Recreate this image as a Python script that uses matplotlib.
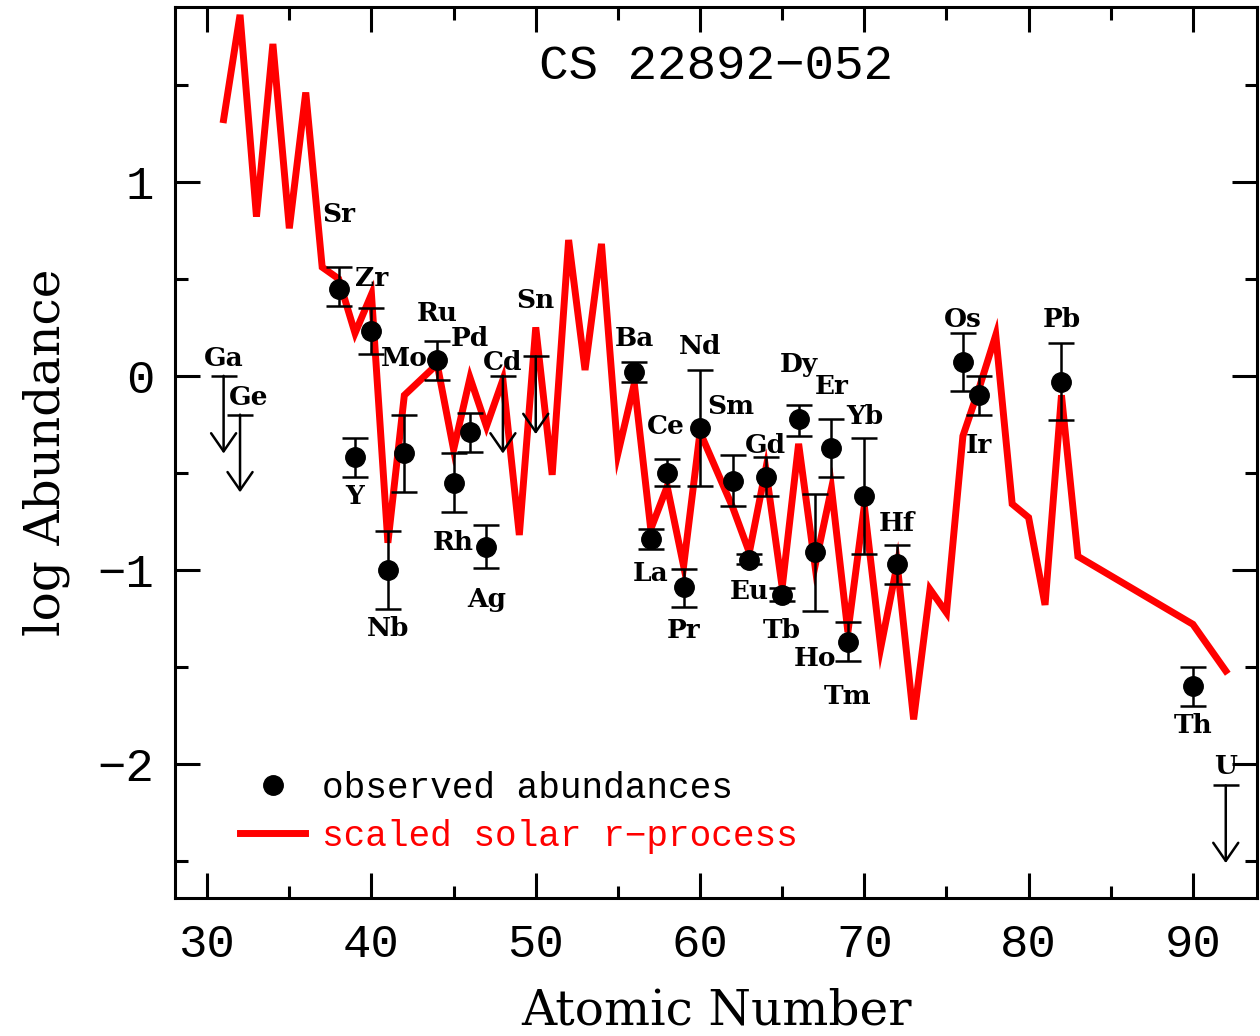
import matplotlib
matplotlib.use('Agg')
import matplotlib.pyplot as plt
from matplotlib.ticker import MultipleLocator
from matplotlib.lines import Line2D

# ---- scaled solar r-process curve ----
solar_Z = [31, 32, 33, 34, 35, 36, 37, 38, 39, 40, 41, 42, 44, 45, 46, 47, 48, 49,
           50, 51, 52, 53, 54, 55, 56, 57, 58, 59, 60, 62, 63, 64, 65, 66, 67, 68,
           69, 70, 71, 72, 73, 74, 75, 76, 77, 78, 79, 80, 81, 82, 83, 90, 92]
solar_logeps = [1.32, 1.86, 0.82, 1.71, 0.76, 1.46, 0.56, 0.50, 0.22, 0.42, -0.86, -0.10,
                0.06, -0.38, -0.01, -0.26, -0.02, -0.82, 0.25, -0.51, 0.70, 0.03, 0.68,
                -0.40, -0.04, -0.79, -0.57, -0.98, -0.29, -0.68, -0.91, -0.48, -1.09,
                -0.35, -0.98, -0.58, -1.32, -0.67, -1.40, -0.97, -1.77, -1.10, -1.22,
                -0.31, -0.06, 0.21, -0.66, -0.73, -1.18, -0.10, -0.93, -1.28, -1.52]

# ---- observed abundances ----
obs_Z = [38, 39, 40, 41, 42, 44, 45, 46, 47, 56, 57, 58, 59, 60, 62, 63, 64, 65, 66,
         67, 68, 69, 70, 72, 76, 77, 82, 90]
obs_el = ['Sr', 'Y', 'Zr', 'Nb', 'Mo', 'Ru', 'Rh', 'Pd', 'Ag', 'Ba', 'La', 'Ce', 'Pr',
          'Nd', 'Sm', 'Eu', 'Gd', 'Tb', 'Dy', 'Ho', 'Er', 'Tm', 'Yb', 'Hf', 'Os', 'Ir',
          'Pb', 'Th']
obs_logeps = [0.45, -0.42, 0.23, -1.00, -0.40, 0.08, -0.55, -0.29, -0.88, 0.02, -0.84,
              -0.50, -1.09, -0.27, -0.54, -0.95, -0.52, -1.13, -0.22, -0.91, -0.37,
              -1.37, -0.62, -0.97, 0.07, -0.10, -0.03, -1.60]
obs_upper = [0.56, -0.32, 0.35, -0.80, -0.20, 0.18, -0.40, -0.19, -0.77, 0.07, -0.79,
             -0.43, -0.995, 0.03, -0.41, -0.92, -0.42, -1.095, -0.15, -0.61, -0.22,
             -1.27, -0.32, -0.87, 0.22, 0.00, 0.17, -1.50]
obs_lower = [0.36, -0.52, 0.11, -1.20, -0.60, -0.02, -0.70, -0.39, -0.99, -0.03, -0.89,
             -0.57, -1.19, -0.57, -0.67, -0.97, -0.62, -1.16, -0.31, -1.21, -0.52,
             -1.47, -0.92, -1.07, -0.08, -0.20, -0.23, -1.70]

# ---- upper limits ----
lim_Z = [31, 32, 48, 50, 92]
lim_el = ['Ga', 'Ge', 'Cd', 'Sn', 'U']
lim_logeps = [0.00, -0.20, 0.00, 0.10, -2.11]

# label placements (x, y) in data units
label_pos = {
    'Sr': (38, 0.83), 'Y': (39, -0.62), 'Zr': (40, 0.50), 'Nb': (41, -1.30),
    'Mo': (42, 0.09), 'Ru': (44, 0.32), 'Rh': (45, -0.86), 'Pd': (46, 0.19),
    'Ag': (47, -1.15), 'Cd': (48, 0.07), 'Sn': (50, 0.39), 'Ga': (31, 0.09),
    'Ge': (32.5, -0.11), 'Ba': (56, 0.19), 'La': (57, -1.02), 'Ce': (57.9, -0.26),
    'Pr': (59, -1.31), 'Nd': (60, 0.15), 'Sm': (61.9, -0.16), 'Eu': (63, -1.11),
    'Gd': (64, -0.36), 'Tb': (65, -1.31), 'Dy': (66, 0.06), 'Ho': (67, -1.455),
    'Er': (68, -0.055), 'Tm': (69, -1.65), 'Yb': (70, -0.21), 'Hf': (72, -0.76),
    'Os': (76, 0.29), 'Ir': (77, -0.36), 'Pb': (82, 0.29), 'Th': (90, -1.80),
    'U': (92, -2.01),
}
limit_len = 0.40

MONO = 'Liberation Mono'

fig = plt.figure(figsize=(12.6, 10.36), dpi=100)
ax = fig.add_axes([0.139, 0.1332, 0.8586, 0.860])

ax.plot(solar_Z, solar_logeps, color='#ff0000', lw=5, zorder=1, solid_joinstyle='miter')

yerr = [[v - lo for v, lo in zip(obs_logeps, obs_lower)],
        [hi - v for v, hi in zip(obs_logeps, obs_upper)]]
ax.errorbar(obs_Z, obs_logeps, yerr=yerr, fmt='o', color='black', ms=14,
            capsize=9.4, elinewidth=1.8, capthick=1.8, zorder=3)

for z, v in zip(lim_Z, lim_logeps):
    ax.plot([z], [v], marker='_', ms=18.8, mew=1.8, color='black', zorder=3)
    ax.annotate('', xy=(z, v - limit_len), xytext=(z, v),
                arrowprops=dict(arrowstyle='->,head_length=0.65,head_width=0.45',
                                lw=1.8, color='black', shrinkA=0, shrinkB=0,
                                mutation_scale=20), zorder=3)

for el, (lx, ly) in label_pos.items():
    ax.text(lx, ly, el, ha='center', va='center', fontsize=19, fontweight='bold',
            family='DejaVu Serif', zorder=4)

ax.text(61.0, 1.593, 'CS 22892\u2212052', ha='center', va='center', fontsize=35.5,
        family=MONO)

ax.set_xlim(28.05, 93.9)
ax.set_ylim(-2.69, 1.90)
ax.xaxis.set_major_locator(MultipleLocator(10))
ax.xaxis.set_minor_locator(MultipleLocator(5))
ax.yaxis.set_major_locator(MultipleLocator(1))
ax.yaxis.set_minor_locator(MultipleLocator(0.5))
ax.tick_params(which='both', direction='in', top=True, right=True, width=2.2)
ax.tick_params(which='major', length=18, labelsize=34)
ax.tick_params(axis='x', which='major', pad=18)
ax.tick_params(axis='y', which='major', pad=15)
ax.tick_params(which='minor', length=9)
for lab in ax.get_xticklabels() + ax.get_yticklabels():
    lab.set_family(MONO)
for s in ax.spines.values():
    s.set_linewidth(2.2)

ax.set_xlabel('Atomic Number', fontsize=35, family='DejaVu Serif', labelpad=15)
ax.set_ylabel('log Abundance', fontsize=35, family='DejaVu Serif', labelpad=20)

handles = [Line2D([], [], marker='o', ls='none', color='black', ms=14),
           Line2D([], [], color='#ff0000', lw=5)]
leg = ax.legend(handles, ['observed abundances', 'scaled solar r\u2212process'],
                loc='center left', bbox_to_anchor=(0.060, 0.096), frameon=False,
                prop={'family': MONO, 'size': 26}, handlelength=1.8,
                handletextpad=0.47, labelspacing=0.36, borderpad=0, borderaxespad=0)
leg.get_texts()[1].set_color('#ff0000')

fig.savefig('out.png', dpi=100)
